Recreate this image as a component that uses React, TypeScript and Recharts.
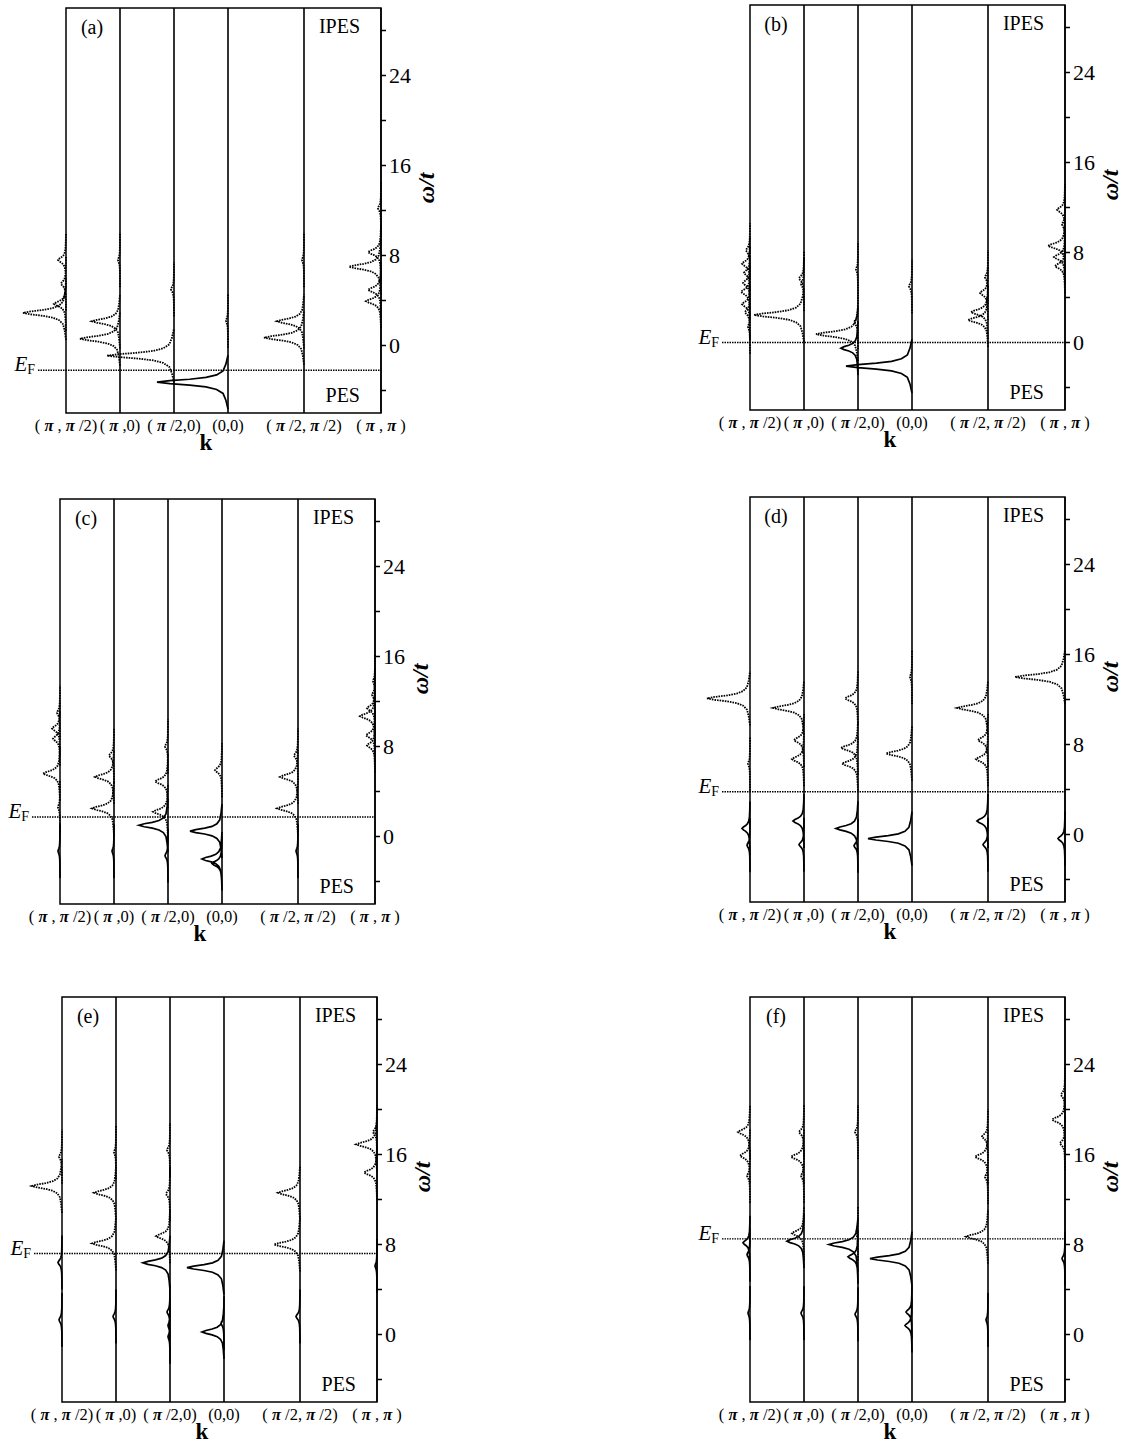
import React from 'react';
import { LineChart, Line, XAxis, YAxis, ReferenceLine, ReferenceArea } from 'recharts';

const SERIF = '"Liberation Serif", "DejaVu Serif", serif';

// k points along the horizontal axis (spectra hang to the left of each baseline)
const K_LABELS = ['( π , π /2)', '( π ,0)', '( π /2,0)', '(0,0)', '( π /2, π /2)', '( π , π )'];
const K_POS = [0, 54, 108, 162, 238, 315];

const OMEGA_DOMAIN = [-6, 30];
const OMEGA_TICKS = [-4, 0, 4, 8, 12, 16, 20, 24, 28];

const PANEL_TAGS = ['(a)', '(b)', '(c)', '(d)', '(e)', '(f)'];
const EF_VALUES = [-2.2, 0, 1.73, 3.8, 7.2, 8.5];

// peaks per k point: [omega/t, weight]
const PEAKS_A = [
  [[2.9, 43], [3.7, 12], [5.5, 5], [7.6, 8]],
  [[2.15, 28], [0.6, 40], [7.6, 2]],
  [[-0.9, 67], [5.0, 3]],
  [[-3.26, 71], [2.2, 2]],
  [[2.15, 27], [0.7, 40], [7.6, 2]],
  [[8.3, 13], [7.0, 32], [4.95, 13], [3.94, 15], [12.2, 3]],
];
const PEAKS_B = [
  [[8.2, 4], [7.0, 8], [6.2, 6], [5.3, 7], [4.5, 9], [3.4, 8], [2.7, 5], [1.4, 2]],
  [[2.45, 50], [5.7, 5], [5.2, 3]],
  [[0.74, 42], [1.8, 4], [-0.5, 17], [6.5, 2]],
  [[-2.1, 66], [5.0, 3]],
  [[2.0, 20], [2.7, 17], [4.4, 8], [5.8, 3]],
  [[11.8, 8], [8.6, 17], [7.6, 11], [6.8, 10], [10.5, 3]],
];
const PEAKS_C = [
  [[5.6, 17], [8.7, 7], [9.6, 8], [11.0, 3], [2.6, 2], [-1.3, 2]],
  [[5.3, 19], [2.5, 22], [7.2, 5], [-1.3, 2]],
  [[4.9, 13], [2.2, 15], [8.0, 3], [1.0, 29], [-1.7, 3]],
  [[5.9, 7], [0.48, 32], [-2.0, 20], [-2.4, 10]],
  [[5.3, 18], [2.5, 21], [7.2, 4], [-1.3, 2]],
  [[10.7, 15], [9.0, 9], [11.4, 8], [8.1, 8], [12.6, 3], [13.8, 2]],
];
const PEAKS_D = [
  [[12.1, 43], [6.3, 2], [0.54, 8], [-0.95, 3]],
  [[11.25, 31], [8.4, 10], [6.7, 12], [1.2, 11], [-0.9, 5]],
  [[12.1, 13], [7.7, 17], [6.3, 16], [0.54, 22], [-1.0, 4]],
  [[7.2, 26], [14.0, 2], [-0.36, 44]],
  [[11.25, 31], [8.4, 10], [6.7, 12], [1.2, 11], [-0.9, 5]],
  [[14.0, 50], [-0.36, 7]],
];
const PEAKS_E = [
  [[13.2, 30], [15.8, 3], [6.4, 4], [1.3, 3]],
  [[12.6, 22], [8.1, 24], [16.2, 2], [1.6, 3]],
  [[8.74, 14], [12.5, 4], [16.4, 3], [6.37, 27], [2.0, 3], [0.8, 2], [-0.2, 2]],
  [[5.95, 37], [0.23, 22], [1.0, 3]],
  [[12.6, 22], [8.0, 26], [1.6, 4]],
  [[16.9, 21], [14.4, 13], [18.0, 4], [6.1, 2]],
];
const PEAKS_F = [
  [[18.0, 12], [15.9, 10], [14.1, 3], [8.15, 7], [7.1, 3], [1.9, 2]],
  [[15.8, 13], [18.0, 5], [14.1, 3], [9.0, 12], [8.3, 17], [1.9, 3]],
  [[18.0, 3], [9.0, 2], [8.0, 29], [6.9, 10], [1.8, 3]],
  [[6.75, 42], [2.0, 6], [0.8, 7]],
  [[15.8, 13], [17.6, 6], [14.0, 3], [8.7, 22], [1.3, 2]],
  [[19.1, 13], [21.3, 4], [17.0, 5], [6.75, 3]],
];
const PANEL_PEAKS = [PEAKS_A, PEAKS_B, PEAKS_C, PEAKS_D, PEAKS_E, PEAKS_F];

// line shape of one peak: [omega offset, fraction of weight]
const PEAK_SHAPE = [
  [-2.4, 0], [-1.6, 0.03], [-1.0, 0.07], [-0.65, 0.16], [-0.42, 0.31], [-0.26, 0.54], [-0.13, 0.82], [0, 1],
  [0.13, 0.82], [0.26, 0.54], [0.42, 0.31], [0.65, 0.16], [1.0, 0.07], [1.6, 0.03], [2.4, 0],
];

// panel placement on the page
const PANEL_POS = [
  { left: 0, top: 4 },
  { left: 684, top: 1 },
  { left: -6, top: 495 },
  { left: 684, top: 493 },
  { left: -4, top: 993 },
  { left: 684, top: 993 },
];

function spectrum(peaks: number[][][], ef: number, upper: boolean) {
  const pts: { x: number; w: number | null }[] = [];
  peaks.forEach((list, k) => {
    list
      .filter(([w]) => (upper ? w > ef : w < ef))
      .forEach(([w, a]) => {
        PEAK_SHAPE.forEach(([dw, f]) => pts.push({ x: K_POS[k] - a * f, w: w + dw }));
        pts.push({ x: K_POS[k], w: null });
      });
  });
  return pts;
}

const KTick = (props: any) => {
  const { x, y, payload } = props;
  const label = K_LABELS[K_POS.indexOf(payload.value)] || '';
  const parts = label.split('π');
  return (
    <text x={x} y={y} dy="0.71em" textAnchor="middle" fontFamily={SERIF} fontSize={16.5} fill="#000">
      {parts.map((p, i) => (
        <React.Fragment key={i}>
          {i > 0 && <tspan fontStyle="italic" fontWeight="bold">π</tspan>}
          {p}
        </React.Fragment>
      ))}
    </text>
  );
};

const EfLabel = (props: any) => {
  const { x, y } = props.viewBox;
  return (
    <text x={x - 3} y={y + 1} textAnchor="end" fontFamily={SERIF} fontSize={21} fill="#000">
      <tspan fontStyle="italic">E</tspan>
      <tspan fontSize={14} dy={3}>F</tspan>
    </text>
  );
};

const BoxLabels = (props: any) => {
  const { x, y, width, height } = props.viewBox;
  return (
    <g fontFamily={SERIF} fontSize={20} fill="#000">
      <text x={x + 26} y={y + 26} textAnchor="middle">{props.tag}</text>
      <text x={x + width - 21} y={y + 25} textAnchor="end">IPES</text>
      <text x={x + width - 21} y={y + height - 11} textAnchor="end">PES</text>
    </g>
  );
};

const KLabel = (props: any) => {
  const { x, y } = props.viewBox;
  return (
    <text x={x + 62 + 140} y={y + 37} textAnchor="middle" fontFamily={SERIF} fontSize={23} fontWeight="bold" fill="#000">
      k
    </text>
  );
};

const OmegaLabel = (props: any) => {
  const { x, y, height } = props.viewBox;
  const cx = x + 45;
  const cy = y + (height * 16) / 36;
  return (
    <text x={cx} y={cy} textAnchor="middle" dominantBaseline="central" transform={`rotate(-90 ${cx} ${cy})`}
      fontFamily={SERIF} fontSize={24} fontWeight="bold" fontStyle="italic" fill="#000">
      ω/t
    </text>
  );
};

const Panel = ({ index }: { index: number }) => {
  const ef = EF_VALUES[index];
  const peaks = PANEL_PEAKS[index];
  const ipes = spectrum(peaks, ef, true);
  const pes = spectrum(peaks, ef, false);
  const pos = PANEL_POS[index];
  return (
    <div style={{ position: 'absolute', left: pos.left, top: pos.top }}>
      <LineChart width={441} height={452} margin={{ top: 4, right: 0, bottom: 0, left: 4 }}>
        <XAxis
          type="number"
          dataKey="x"
          domain={[-62, 315]}
          ticks={K_POS}
          interval={0}
          axisLine={false}
          tickLine={false}
          tickSize={0}
          tickMargin={6}
          height={43}
          tick={<KTick />}
          label={<KLabel />}
        />
        <YAxis
          type="number"
          orientation="right"
          domain={OMEGA_DOMAIN}
          ticks={OMEGA_TICKS}
          interval={0}
          tickFormatter={(v: number) => (v % 8 === 0 ? String(v) : '')}
          width={60}
          stroke="#000"
          strokeWidth={1.5}
          tickSize={5}
          tickMargin={3}
          tick={{ fill: '#000', fontSize: 22, fontFamily: SERIF }}
          label={<OmegaLabel />}
        />
        <ReferenceArea x1={0} x2={315} y1={-6} y2={30} fill="none" stroke="#000" strokeWidth={1.5}
          label={<BoxLabels tag={PANEL_TAGS[index]} />} />
        {K_POS.slice(1, 5).map((k) => (
          <ReferenceLine key={k} x={k} stroke="#000" strokeWidth={1.6} />
        ))}
        <ReferenceLine segment={[{ x: -28, y: ef }, { x: 315, y: ef }]} stroke="#000" strokeWidth={1.4}
          strokeDasharray="1.5 1" label={<EfLabel />} />
        <Line data={ipes} dataKey="w" type="linear" stroke="#000" strokeWidth={1.8} strokeDasharray="1.6 1"
          dot={false} connectNulls={false} isAnimationActive={false} />
        <Line data={pes} dataKey="w" type="linear" stroke="#000" strokeWidth={1.7}
          dot={false} connectNulls={false} isAnimationActive={false} />
      </LineChart>
    </div>
  );
}

export default function App() {
  return (
    <div style={{ position: 'absolute', left: 0, top: 0, width: 1125, height: 1446, background: '#fff', overflow: 'hidden' }}>
      {PANEL_TAGS.map((t, i) => (
        <Panel key={t} index={i} />
      ))}
    </div>
  );
}
